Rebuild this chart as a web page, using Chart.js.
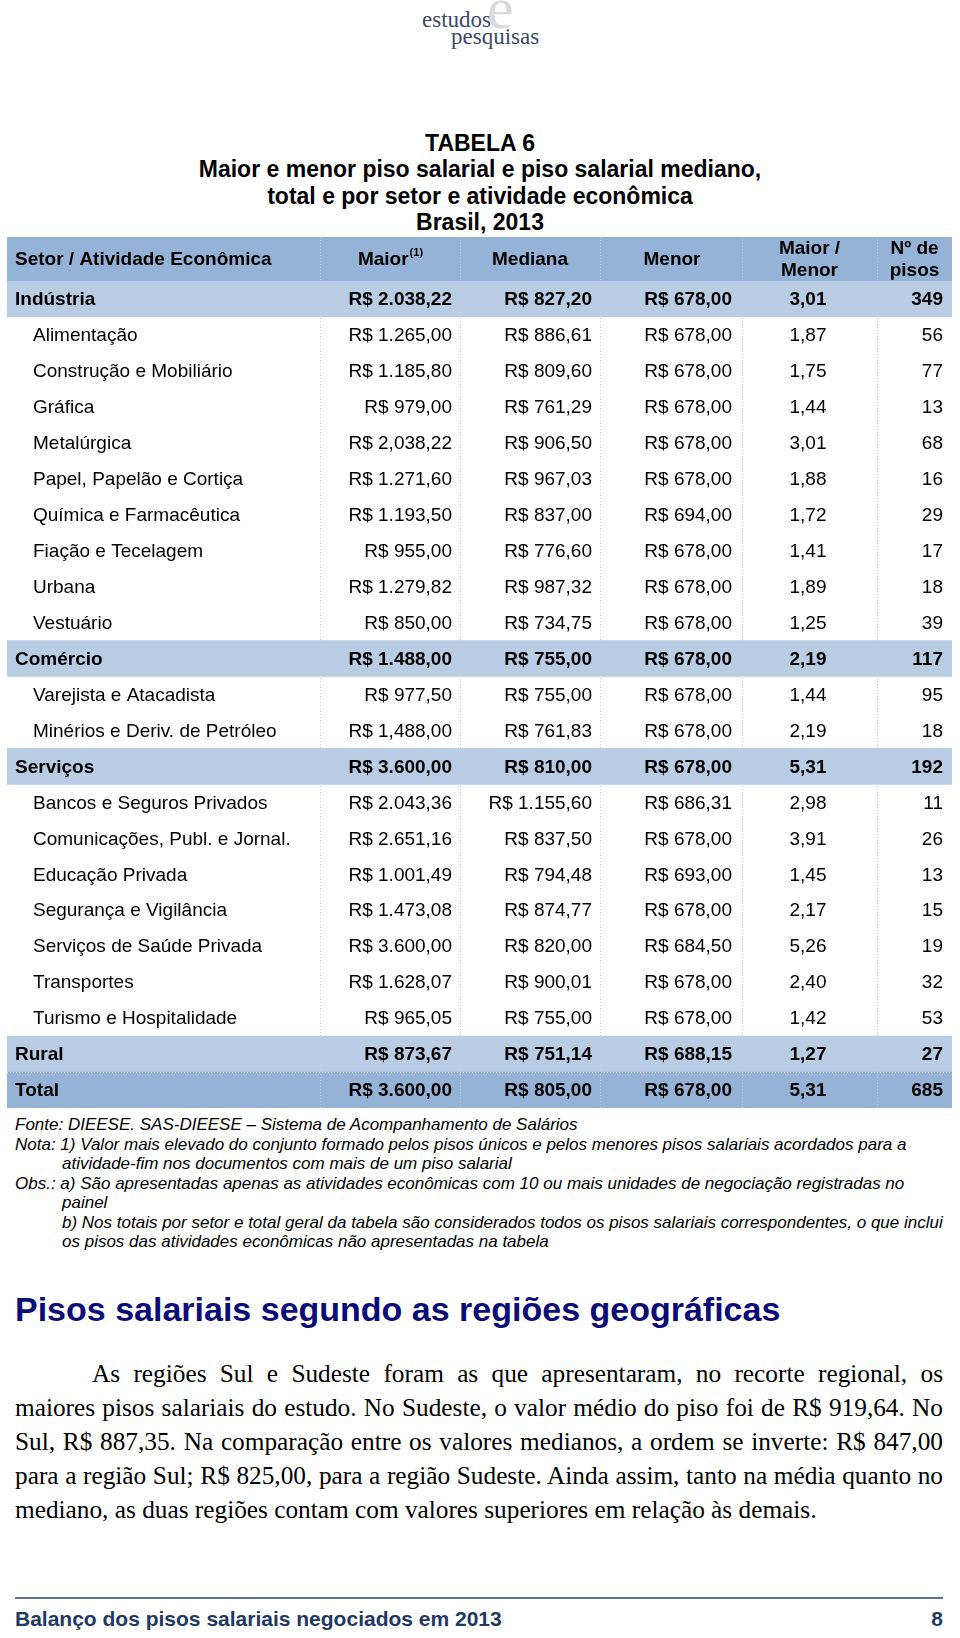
<!DOCTYPE html>
<html lang="pt-BR">
<head>
<meta charset="utf-8">
<title>Tabela 6 - Pisos salariais 2013</title>
<script src="https://cdn.jsdelivr.net/npm/chart.js@4.4.1/dist/chart.umd.min.js"></script>
<style>
    body {
        margin: 0;
        width: 960px;
        height: 1638px;
        position: relative;
        overflow: hidden;
        background: #fff;
        color: #000;
        font-family: "Liberation Sans", Arial, Helvetica, sans-serif;
    }
    .abs { position: absolute; white-space: nowrap; }

    /* logotipo */
    .logo-e { left: 487px; top: -22px; font: 60px/60px "Liberation Serif", "Times New Roman", serif; color: #d9d9d9; }
    .logo-txt { font: 23px/22px "Liberation Serif", "Times New Roman", serif; color: #3c4a6b; }

    .titulo { left: 0; width: 960px; top: 130px; text-align: center; font-weight: bold; font-size: 23px; line-height: 26.3px; }

    #tabela-box { position: absolute; left: 0; top: 237px; width: 960px; height: 876px; }

    .notas { left: 0; top: 1115px; font-style: italic; font-size: 17px; line-height: 19.5px; }
    .notas div { white-space: nowrap; }
    .notas .rec { padding-left: 62px; }
    .notas .ini { padding-left: 15px; }

    .secao { left: 15px; top: 1289px; font-weight: bold; font-size: 34px; line-height: 40px; color: #0c0c78; }

    .texto { left: 15px; top: 1356px; width: 928px; font: 25.3px/34px "Liberation Serif", "Times New Roman", serif; }
    .texto div { white-space: nowrap; text-align: justify; text-align-last: justify; }
    .texto .primeira { text-indent: 77px; }
    .texto .ultima { text-align-last: left; }

    .rodape-linha { left: 15px; top: 1597px; width: 928px; height: 2px; background: #5e7299; }
    .rodape { left: 15px; width: 928px; top: 1608px; font-weight: bold; font-size: 21px; line-height: 22px; color: #1f3864; }
    .rodape span.pag { position: absolute; right: 0; }
</style>
</head>
<body>

<div class="abs logo-e">e</div>
<div class="abs logo-txt" style="left:422px; top:9px;">estudos</div>
<div class="abs logo-txt" style="left:451px; top:26px;">pesquisas</div>

<div class="abs titulo">
    TABELA 6<br>
    Maior e menor piso salarial e piso salarial mediano,<br>
    total e por setor e atividade econômica<br>
    Brasil, 2013
</div>

<div id="tabela-box"><canvas id="tabela"></canvas></div>

<div class="abs notas">
    <div class="ini">Fonte: DIEESE. SAS-DIEESE – Sistema de Acompanhamento de Salários</div>
    <div class="ini">Nota: 1) Valor mais elevado do conjunto formado pelos pisos únicos e pelos menores pisos salariais acordados para a</div>
    <div class="rec">atividade-fim nos documentos com mais de um piso salarial</div>
    <div class="ini">Obs.: a) São apresentadas apenas as atividades econômicas com 10 ou mais unidades de negociação registradas no</div>
    <div class="rec">painel</div>
    <div class="rec">b) Nos totais por setor e total geral da tabela são considerados todos os pisos salariais correspondentes, o que inclui</div>
    <div class="rec">os pisos das atividades econômicas não apresentadas na tabela</div>
</div>

<div class="abs secao">Pisos salariais segundo as regiões geográficas</div>

<div class="abs texto">
    <div class="primeira">As regiões Sul e Sudeste foram as que apresentaram, no recorte regional, os</div>
    <div>maiores pisos salariais do estudo. No Sudeste, o valor médio do piso foi de R$ 919,64. No</div>
    <div>Sul, R$ 887,35. Na comparação entre os valores medianos, a ordem se inverte: R$ 847,00</div>
    <div>para a região Sul; R$ 825,00, para a região Sudeste. Ainda assim, tanto na média quanto no</div>
    <div class="ultima">mediano, as duas regiões contam com valores superiores em relação às demais.</div>
</div>

<div class="abs rodape-linha"></div>
<div class="abs rodape">Balanço dos pisos salariais negociados em 2013<span class="pag">8</span></div>

<script>
// Dados da tabela
const linhas = [
    'Indústria', 'Alimentação', 'Construção e Mobiliário', 'Gráfica', 'Metalúrgica',
    'Papel, Papelão e Cortiça', 'Química e Farmacêutica', 'Fiação e Tecelagem', 'Urbana', 'Vestuário',
    'Comércio', 'Varejista e Atacadista', 'Minérios e Deriv. de Petróleo',
    'Serviços', 'Bancos e Seguros Privados', 'Comunicações, Publ. e Jornal.', 'Educação Privada',
    'Segurança e Vigilância', 'Serviços de Saúde Privada', 'Transportes', 'Turismo e Hospitalidade',
    'Rural', 'Total'
];
const maior = [
    'R$ 2.038,22', 'R$ 1.265,00', 'R$ 1.185,80', 'R$ 979,00', 'R$ 2,038,22',
    'R$ 1.271,60', 'R$ 1.193,50', 'R$ 955,00', 'R$ 1.279,82', 'R$ 850,00',
    'R$ 1.488,00', 'R$ 977,50', 'R$ 1,488,00',
    'R$ 3.600,00', 'R$ 2.043,36', 'R$ 2.651,16', 'R$ 1.001,49',
    'R$ 1.473,08', 'R$ 3.600,00', 'R$ 1.628,07', 'R$ 965,05',
    'R$ 873,67', 'R$ 3.600,00'
];
const mediana = [
    'R$ 827,20', 'R$ 886,61', 'R$ 809,60', 'R$ 761,29', 'R$ 906,50',
    'R$ 967,03', 'R$ 837,00', 'R$ 776,60', 'R$ 987,32', 'R$ 734,75',
    'R$ 755,00', 'R$ 755,00', 'R$ 761,83',
    'R$ 810,00', 'R$ 1.155,60', 'R$ 837,50', 'R$ 794,48',
    'R$ 874,77', 'R$ 820,00', 'R$ 900,01', 'R$ 755,00',
    'R$ 751,14', 'R$ 805,00'
];
const menor = [
    'R$ 678,00', 'R$ 678,00', 'R$ 678,00', 'R$ 678,00', 'R$ 678,00',
    'R$ 678,00', 'R$ 694,00', 'R$ 678,00', 'R$ 678,00', 'R$ 678,00',
    'R$ 678,00', 'R$ 678,00', 'R$ 678,00',
    'R$ 678,00', 'R$ 686,31', 'R$ 678,00', 'R$ 693,00',
    'R$ 678,00', 'R$ 684,50', 'R$ 678,00', 'R$ 678,00',
    'R$ 688,15', 'R$ 678,00'
];
const maiorMenor = [
    '3,01', '1,87', '1,75', '1,44', '3,01',
    '1,88', '1,72', '1,41', '1,89', '1,25',
    '2,19', '1,44', '2,19',
    '5,31', '2,98', '3,91', '1,45',
    '2,17', '5,26', '2,40', '1,42',
    '1,27', '5,31'
];
const numPisos = [
    '349', '56', '77', '13', '68',
    '16', '29', '17', '18', '39',
    '117', '95', '18',
    '192', '11', '26', '13',
    '15', '19', '32', '53',
    '27', '685'
];
const setores = ['Indústria', 'Comércio', 'Serviços', 'Rural', 'Total'];

// Layout (px no canvas)
const ALTURA_CAB = 44;
const COL = { setor: 15, atividade: 33, maior: 452, mediana: 592, menor: 732, razao: 808, pisos: 943 };
const SEPARADORES = [320, 460, 600, 742, 877];
const AZUL_ESCURO = '#95b3d7';
const AZUL_CLARO = '#b8cce4';
const FONTE = '19px "Liberation Sans", Arial, sans-serif';
const FONTE_B = 'bold 19px "Liberation Sans", Arial, sans-serif';

const tabelaPlugin = {
    id: 'tabela',
    beforeDatasetsDraw(chart) {
        const { ctx, chartArea } = chart;
        ctx.save();
        ctx.fillStyle = AZUL_ESCURO;
        ctx.fillRect(chartArea.left, chartArea.top - ALTURA_CAB, chartArea.right - chartArea.left, ALTURA_CAB);
        ctx.restore();
    },
    afterDatasetsDraw(chart) {
        const { ctx, chartArea, scales: { y } } = chart;
        const topo = chartArea.top - ALTURA_CAB;
        ctx.save();

        // separadores pontilhados
        ctx.strokeStyle = '#c6ccd8';
        ctx.lineWidth = 1;
        ctx.setLineDash([1, 2]);
        SEPARADORES.forEach(x => {
            ctx.beginPath();
            ctx.moveTo(x + 0.5, topo);
            ctx.lineTo(x + 0.5, chartArea.bottom);
            ctx.stroke();
        });

        // linha branca entre Rural e Total
        const iTotal = linhas.indexOf('Total');
        const yDiv = Math.round((y.getPixelForValue(iTotal - 1) + y.getPixelForValue(iTotal)) / 2) + 0.5;
        ctx.strokeStyle = 'rgba(255,255,255,0.8)';
        ctx.beginPath();
        ctx.moveTo(chartArea.left, yDiv);
        ctx.lineTo(chartArea.right, yDiv);
        ctx.stroke();
        ctx.setLineDash([]);

        // cabeçalho
        ctx.fillStyle = '#000';
        ctx.textBaseline = 'middle';
        ctx.font = FONTE_B;
        const yc = topo + 22.5;
        ctx.textAlign = 'left';
        ctx.fillText('Setor / Atividade Econômica', COL.setor, yc);

        const wMaior = ctx.measureText('Maior').width;
        ctx.font = 'bold 11px "Liberation Sans", Arial, sans-serif';
        const wSup = ctx.measureText('(1)').width;
        const xMaior = (SEPARADORES[0] + SEPARADORES[1]) / 2 - (wMaior + wSup) / 2;
        ctx.fillText('(1)', xMaior + wMaior + 1, yc - 7);
        ctx.font = FONTE_B;
        ctx.fillText('Maior', xMaior, yc);

        ctx.textAlign = 'center';
        ctx.fillText('Mediana', (SEPARADORES[1] + SEPARADORES[2]) / 2, yc);
        ctx.fillText('Menor', (SEPARADORES[2] + SEPARADORES[3]) / 2 + 1, yc);
        const xRazao = (SEPARADORES[3] + SEPARADORES[4]) / 2;
        ctx.fillText('Maior /', xRazao, yc - 11);
        ctx.fillText('Menor', xRazao, yc + 11);
        const xPisos = (SEPARADORES[4] + chartArea.right) / 2;
        ctx.fillText('Nº de', xPisos, yc - 11);
        ctx.fillText('pisos', xPisos, yc + 11);

        // linhas do corpo
        linhas.forEach((nome, i) => {
            const yl = y.getPixelForValue(i) + 1;
            const destaque = setores.includes(nome);
            ctx.font = destaque ? FONTE_B : FONTE;
            ctx.textAlign = 'left';
            ctx.fillText(nome, destaque ? COL.setor : COL.atividade, yl);
            ctx.textAlign = 'right';
            ctx.fillText(maior[i], COL.maior, yl);
            ctx.fillText(mediana[i], COL.mediana, yl);
            ctx.fillText(menor[i], COL.menor, yl);
            ctx.fillText(numPisos[i], COL.pisos, yl);
            ctx.textAlign = 'center';
            ctx.fillText(maiorMenor[i], COL.razao, yl);
        });
        ctx.restore();
    }
};

new Chart(document.getElementById('tabela'), {
    type: 'bar',
    data: {
        labels: linhas,
        datasets: [{
            // faixas azuis dos setores e do total
            data: linhas.map(n => setores.includes(n) ? [0, 1] : null),
            backgroundColor: linhas.map(n => n === 'Total' ? AZUL_ESCURO : AZUL_CLARO),
            borderWidth: 0,
            barPercentage: 1,
            categoryPercentage: 1
        }]
    },
    options: {
        indexAxis: 'y',
        responsive: true,
        maintainAspectRatio: false,
        animation: false,
        devicePixelRatio: 1,
        events: [],
        layout: { padding: { top: ALTURA_CAB, bottom: 5, left: 7, right: 8 } },
        scales: {
            x: { type: 'linear', min: 0, max: 1, display: false },
            y: { display: false }
        },
        plugins: {
            legend: { display: false },
            tooltip: { enabled: false }
        }
    },
    plugins: [tabelaPlugin]
});
</script>
</body>
</html>
